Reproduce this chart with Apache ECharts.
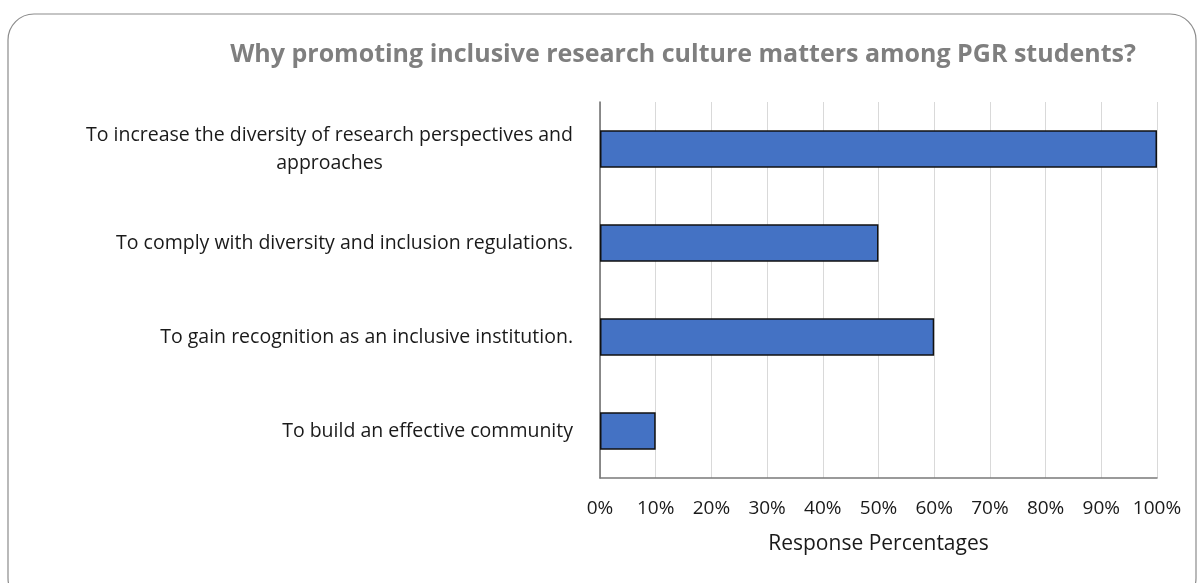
<!DOCTYPE html>
<html>
<head>
<meta charset="utf-8">
<script src="https://cdn.jsdelivr.net/npm/echarts@6/dist/echarts.min.js"></script>
<style>
  html, body { margin: 0; padding: 0; background: #fff; }
  #chart { width: 1198px; height: 583px; }
</style>
</head>
<body>
<div id="chart"></div>
<script>
const categories = [
  'To increase the diversity of research perspectives and\napproaches',
  'To comply with diversity and inclusion regulations.',
  'To gain recognition as an inclusive institution.',
  'To build an effective community'
]
const responseValues = [100, 50, 60, 10]
const titleText = 'Why promoting inclusive research culture matters among PGR students?'
const axisTitle = 'Response Percentages'

const chart = echarts.init(document.getElementById('chart'))
const fontFamily = '"Open Sans", "Noto Sans", sans-serif'

const opt = {
  backgroundColor: '#fff',
  animation: false,
  graphic: [{
    type: 'rect',
    shape: { x: 8, y: 14, width: 1188, height: 590, r: 26 },
    style: { fill: 'none', stroke: '#8c8c8c', lineWidth: 1.2 },
    silent: true
  }],
  title: {
    text: titleText,
    left: 678,
    top: 37,
    textAlign: 'center',
    textStyle: {
      fontFamily: fontFamily,
      fontWeight: 'bold',
      fontSize: 25,
      color: '#7f7f7f'
    }
  },
  grid: {
    left: 600,
    right: 41,
    top: 102,
    bottom: 105,
    containLabel: false
  },
  xAxis: {
    type: 'value',
    min: 0,
    max: 100,
    interval: 10,
    name: axisTitle,
    nameLocation: 'middle',
    nameGap: 56,
    nameTextStyle: {
      fontFamily: fontFamily,
      fontSize: 21,
      color: '#1a1a1a'
    },
    axisLine: { show: true, lineStyle: { color: '#7a7a7a', width: 1.5 } },
    axisTick: { show: false },
    axisLabel: {
      margin: 21,
      formatter: '{value}%',
      fontFamily: fontFamily,
      fontSize: 19,
      color: '#1a1a1a'
    },
    splitLine: { show: true, lineStyle: { color: '#d9d9d9', width: 1 } }
  },
  yAxis: {
    type: 'category',
    inverse: true,
    data: categories,
    axisLine: { show: true, lineStyle: { color: '#6b6b6b', width: 1.5 } },
    axisTick: { show: false },
    axisLabel: {
      margin: 27,
      lineHeight: 28,
      fontFamily: fontFamily,
      fontSize: 19.5,
      color: '#1a1a1a',
      formatter: function (v) {
        return v.split('\n').map(function (s) { return '{a|' + s + '}' }).join('\n')
      },
      rich: {
        a: {
          align: 'center',
          fontFamily: fontFamily,
          fontSize: 19.5,
          lineHeight: 28,
          color: '#1a1a1a'
        }
      }
    }
  },
  series: [{
    type: 'bar',
    data: responseValues,
    barWidth: '40%',
    itemStyle: {
      color: '#4472c4',
      borderColor: '#111',
      borderWidth: 1.5
    }
  }]
}

chart.setOption(opt)
</script>
</body>
</html>
